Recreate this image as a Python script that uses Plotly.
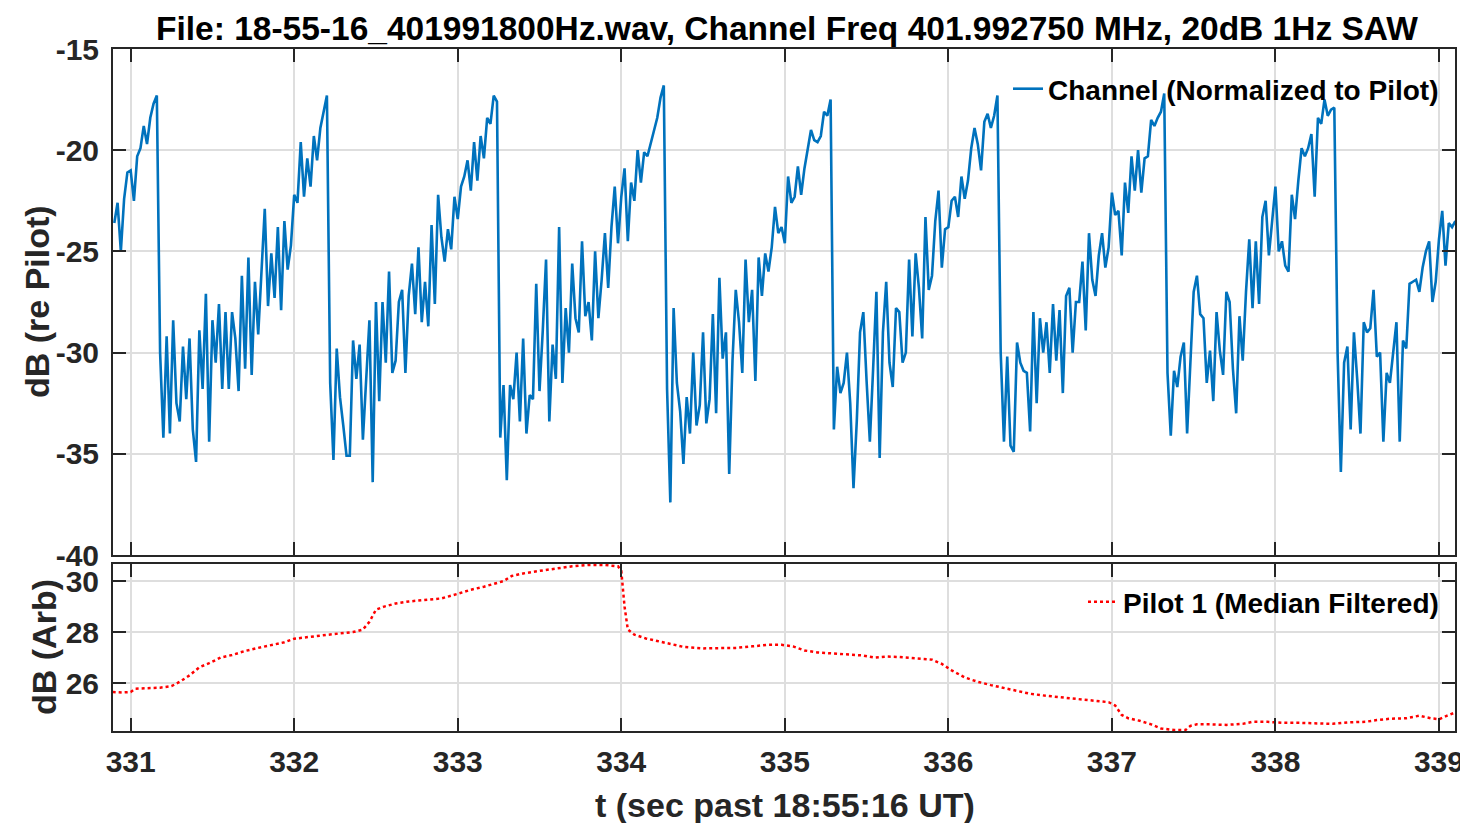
import numpy as np
import plotly.graph_objects as go

# ---------------- data ----------------
T0 = 330.90
DT = 0.02

chan_seg0 = [-23.6, -22.6, -25.0, -22.4, -21.1, -21.0, -22.5, -20.3, -19.9, -18.8, -19.7, -18.4, -17.7, -17.3]
chan_cycle1 = [-30.0, -34.2, -29.2, -34.0, -28.4, -32.5, -33.4, -29.7, -32.3, -29.3, -33.8, -35.4,
               -28.9, -31.8, -27.1, -34.4, -28.4, -30.5, -27.6, -31.8, -28.0, -31.8,
               -28.0, -29.3, -31.9, -26.2, -30.8, -25.3, -31.1, -26.5, -29.1, -26.3,
               -22.9, -27.7, -25.1, -27.3, -23.8, -27.9, -23.5, -25.9, -24.7, -22.2,
               -22.6, -19.6, -22.3, -20.4, -21.8, -19.3, -20.5, -18.9, -18.0, -17.3]
chan_cycle2 = [-31.5, -35.3, -29.8, -32.2, -33.6, -35.1, -35.1, -29.4, -31.3, -29.6,
               -34.3, -31.2, -28.4, -36.4, -27.5, -32.4, -27.5, -30.5, -26.0, -31.0,
               -30.4, -27.5, -26.9, -31.0, -27.2, -25.6, -28.1, -24.8, -28.5, -26.5,
               -28.7, -23.7, -27.6, -22.2, -24.3, -25.5, -23.9, -24.9, -22.3, -23.4,
               -21.8, -21.3, -20.5, -22.0, -19.6, -21.5, -19.3, -20.4, -18.4, -18.7,
               -17.3, -17.6]
chan_cycle3 = [-34.2, -31.6, -36.3, -31.6, -32.3, -30.0, -33.4, -29.3, -34.0, -32.1,
               -32.3, -26.6, -31.9, -28.9, -25.4, -33.4, -29.6, -31.3, -23.8, -31.5,
               -27.8, -30.0, -25.6, -28.3, -29.0, -24.5, -28.2, -27.5, -29.4, -25.0,
               -28.3, -26.4, -24.1, -26.8, -23.8, -21.8, -24.6, -22.3, -20.9, -24.5,
               -21.6, -22.5, -20.0, -21.6, -20.1, -20.3, -19.7, -19.0, -18.4, -17.4,
               -16.8]
chan_cycle4 = [-31.8, -37.4, -27.8, -31.5, -32.9, -35.5, -32.2, -34.0, -30.0, -33.6,
               -32.6, -29.0, -33.5, -32.3, -28.1, -33.0, -26.3, -30.3, -29.0, -36.0,
               -30.4, -26.9, -28.5, -31.0, -25.4, -28.5, -26.9, -31.4, -25.3, -27.2,
               -25.1, -26.0, -24.8, -22.8, -24.1, -23.8, -24.6, -21.3, -22.6, -22.3,
               -20.8, -22.2, -20.9, -20.0, -19.0, -19.5, -19.6, -19.3, -18.1, -18.3,
               -17.5]
chan_cycle5 = [-33.8, -30.7, -32.0, -31.5, -30.0, -32.5, -36.7, -33.4, -29.0, -28.0,
               -31.4, -34.4, -30.8, -27.0, -35.2, -29.0, -26.5, -30.5, -31.7, -27.8,
               -28.0, -30.5, -30.0, -25.4, -29.2, -25.1, -26.8, -29.3, -23.3, -26.9,
               -26.2, -23.5, -22.0, -25.8, -23.9, -23.8, -22.5, -22.3, -23.3, -21.3,
               -22.4, -21.5, -19.9, -18.9, -19.7, -21.0, -18.6, -18.2, -18.9, -18.3,
               -17.3]
chan_cycle6 = [-30.0, -34.4, -30.2, -34.6, -34.9, -29.5, -30.5, -30.9, -31.0, -33.9,
               -28.0, -32.5, -28.3, -30.0, -28.5, -31.0, -27.6, -30.4, -27.9, -32.0,
               -27.2, -26.8, -30.0, -27.5, -27.5, -25.5, -28.9, -24.1, -26.4, -27.2,
               -25.2, -24.1, -25.8, -24.8, -22.1, -23.2, -23.0, -25.2, -21.6, -23.1,
               -20.3, -22.0, -20.0, -22.1, -20.4, -20.3, -18.5, -18.8, -18.4, -18.1,
               -17.2]
chan_cycle7 = [-31.0, -34.1, -30.9, -31.7, -30.2, -29.5, -34.0, -30.8, -27.0, -26.2,
               -28.1, -28.3, -31.5, -29.9, -32.4, -28.0, -29.9, -31.1, -27.0, -27.5,
               -30.8, -33.0, -28.2, -30.4, -27.0, -24.4, -27.8, -24.5, -27.6, -23.3,
               -22.5, -25.2, -23.3, -21.8, -25.0, -24.5, -25.7, -26.0, -22.2, -23.4,
               -21.5, -19.9, -20.3, -19.9, -19.2, -22.3, -18.4, -18.7, -17.5, -18.3,
               -18.0, -17.9]
chan_cycle8 = [-30.0, -35.9, -30.5, -29.7, -33.8, -29.0, -31.3, -34.0, -28.5, -29.0,
               -28.8, -26.9, -30.2, -30.0, -34.4, -31.0, -31.5, -29.9, -28.5, -34.4,
               -29.4, -29.8, -26.6, -26.5, -26.4, -27.0, -25.8, -25.0, -24.5, -27.5,
               -26.5, -24.4, -23.0, -25.7, -23.6, -23.8, -23.5]

channel_db = (chan_seg0 + chan_cycle1 + chan_cycle2 + chan_cycle3 + chan_cycle4
              + chan_cycle5 + chan_cycle6 + chan_cycle7 + chan_cycle8)
channel_t = np.round(T0 + DT * np.arange(len(channel_db)), 3)

pilot_t = [330.89, 330.95, 331.00, 331.03, 331.10, 331.18, 331.25, 331.30, 331.36, 331.42,
           331.48, 331.55, 331.62, 331.70, 331.78, 331.86, 331.94, 332.00, 332.05, 332.12,
           332.20, 332.28, 332.36, 332.42, 332.46, 332.50, 332.55, 332.62, 332.70, 332.80,
           332.90, 333.00, 333.08, 333.16, 333.22, 333.28, 333.33, 333.40, 333.50, 333.60,
           333.70, 333.80, 333.90, 333.98, 334.00, 334.02, 334.04, 334.08, 334.15, 334.22,
           334.30, 334.38, 334.50, 334.60, 334.70, 334.80, 334.90, 334.98, 335.05, 335.12,
           335.20, 335.30, 335.40, 335.48, 335.55, 335.62, 335.70, 335.80, 335.90, 335.96,
           336.02, 336.10, 336.18, 336.26, 336.34, 336.42, 336.50, 336.60, 336.70, 336.80,
           336.90, 336.98, 337.02, 337.06, 337.10, 337.17, 337.24, 337.30, 337.38, 337.45,
           337.48, 337.52, 337.60, 337.70, 337.80, 337.86, 337.95, 338.05, 338.15, 338.25,
           338.35, 338.45, 338.55, 338.62, 338.70, 338.80, 338.88, 338.95, 339.00, 339.05,
           339.10]
pilot_db = [25.65, 25.63, 25.65, 25.78, 25.80, 25.82, 25.88, 26.05, 26.30, 26.62,
            26.78, 27.00, 27.10, 27.26, 27.38, 27.48, 27.60, 27.74, 27.78, 27.84,
            27.88, 27.95, 28.00, 28.10, 28.40, 28.88, 29.00, 29.12, 29.20, 29.25,
            29.32, 29.50, 29.66, 29.78, 29.90, 30.00, 30.20, 30.30, 30.40, 30.50,
            30.58, 30.63, 30.63, 30.58, 30.40, 29.00, 28.10, 27.90, 27.75, 27.65,
            27.52, 27.42, 27.36, 27.36, 27.38, 27.44, 27.50, 27.50, 27.44, 27.28,
            27.20, 27.16, 27.10, 27.08, 27.00, 27.04, 27.02, 26.98, 26.92, 26.75,
            26.50, 26.22, 26.05, 25.92, 25.80, 25.68, 25.58, 25.50, 25.44, 25.38,
            25.32, 25.25, 25.12, 24.75, 24.62, 24.52, 24.38, 24.22, 24.16, 24.16,
            24.32, 24.38, 24.38, 24.36, 24.40, 24.48, 24.48, 24.44, 24.44, 24.42,
            24.40, 24.46, 24.48, 24.55, 24.60, 24.62, 24.72, 24.62, 24.58, 24.72,
            24.85]

x_ticks = [331, 332, 333, 334, 335, 336, 337, 338, 339]
top_y_ticks = [-40, -35, -30, -25, -20, -15]
top_y_labels = ["-40", "-35", "-30", "-25", "-20", "-15"]
bot_y_ticks = [26, 28, 30]

title_text = "File: 18-55-16_401991800Hz.wav, Channel Freq 401.992750 MHz, 20dB 1Hz SAW"

# ---------------- figure ----------------
FONT = "Liberation Sans"
AX = "#262626"
GRID = "#dedede"
W, H = 1468, 823
OFF = 8  # page body margin
# desired plot box in screen pixels
BOX_L, BOX_R, BOX_T, BOX_B = 113, 1455, 49, 731
ML = BOX_L - OFF
MT = BOX_T - OFF
MR = W - (BOX_R - OFF)
MB = H - (BOX_B - OFF)
PW = BOX_R - BOX_L
PH = BOX_B - BOX_T


def px_x(px):
    return (px - BOX_L) / PW


def px_y(py):
    return (BOX_B - py) / PH


fig = go.Figure()
fig.add_trace(go.Scatter(x=channel_t, y=channel_db, mode="lines",
                         line=dict(color="#0072BD", width=2.6),
                         name="Channel (Normalized to Pilot)",
                         xaxis="x", yaxis="y", legend="legend"))
fig.add_trace(go.Scatter(x=pilot_t, y=pilot_db, mode="lines",
                         line=dict(color="#ff0000", width=2.5, dash="dot"),
                         name="Pilot 1 (Median Filtered)",
                         xaxis="x2", yaxis="y2", legend="legend2"))

tickfont = dict(family=FONT, size=30, color=AX, weight="bold")
common_x = dict(range=[330.892, 339.098], tickvals=x_ticks, ticks="inside", ticklen=13,
                tickwidth=2, tickcolor=AX, showline=True, linecolor=AX, linewidth=2,
                mirror="allticks", showgrid=True, gridcolor=GRID, gridwidth=1.5,
                zeroline=False, tickfont=tickfont, automargin=False)
common_y = dict(ticks="inside", ticklen=13, tickwidth=2, tickcolor=AX, showline=True,
                linecolor=AX, linewidth=2, mirror="allticks", showgrid=True,
                gridcolor=GRID, gridwidth=1.5, zeroline=False, tickfont=tickfont,
                ticklabelstandoff=6, automargin=False)

top_dom = [px_y(555), 1.0]
bot_dom = [0.0, px_y(564)]

fig.update_layout(
    width=W, height=H,
    margin=dict(l=ML, r=MR, t=MT, b=MB, autoexpand=False),
    paper_bgcolor="white", plot_bgcolor="white",
    showlegend=True,
    xaxis=dict(common_x, anchor="y", domain=[0, 1], showticklabels=False),
    xaxis2=dict(common_x, anchor="y2", domain=[0, 1], matches="x", ticklabelstandoff=3),
    yaxis=dict(common_y, anchor="x", domain=top_dom, range=[-40, -15],
               tickvals=top_y_ticks, ticktext=top_y_labels),
    yaxis2=dict(common_y, anchor="x2", domain=bot_dom, range=[24.12, 30.67],
                tickvals=bot_y_ticks),
    legend=dict(x=px_x(1444), y=px_y(64), xanchor="right", yanchor="top",
                bgcolor="rgba(0,0,0,0)", borderwidth=0,
                font=dict(family=FONT, size=28, color="black", weight="bold")),
    legend2=dict(x=px_x(1444), y=px_y(577), xanchor="right", yanchor="top",
                 bgcolor="rgba(0,0,0,0)", borderwidth=0,
                 font=dict(family=FONT, size=28, color="black", weight="bold")),
)

fig.add_annotation(text=title_text, xref="paper", yref="paper", x=px_x(787), y=px_y(28),
                   xanchor="center", yanchor="middle", showarrow=False,
                   font=dict(family=FONT, size=33.5, color="black", weight="bold"))
fig.add_annotation(text="dB (re Pilot)", xref="paper", yref="paper", x=px_x(37), y=px_y(302),
                   xanchor="center", yanchor="middle", showarrow=False, textangle=-90,
                   font=dict(family=FONT, size=34, color=AX, weight="bold"))
fig.add_annotation(text="dB (Arb)", xref="paper", yref="paper", x=px_x(44), y=px_y(647),
                   xanchor="center", yanchor="middle", showarrow=False, textangle=-90,
                   font=dict(family=FONT, size=34, color=AX, weight="bold"))
fig.add_annotation(text="t (sec past 18:55:16 UT)", xref="paper", yref="paper",
                   x=px_x(785), y=px_y(805), xanchor="center", yanchor="middle",
                   showarrow=False,
                   font=dict(family=FONT, size=34, color=AX, weight="bold"))

fig.write_html("out.html")
